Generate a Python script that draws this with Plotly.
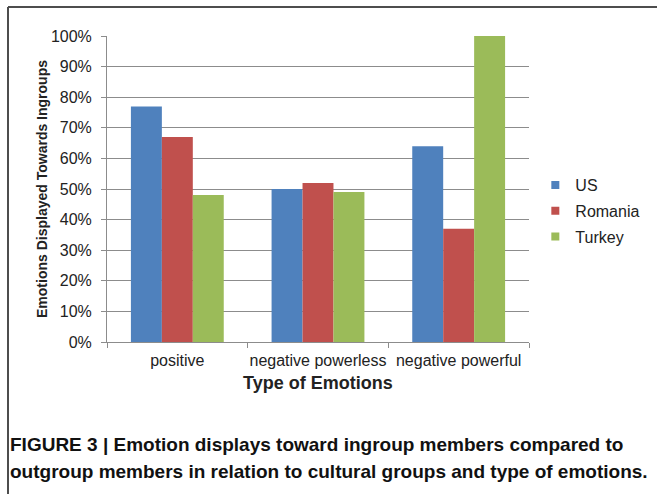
import plotly.graph_objects as go

categories = ['positive', 'negative powerless', 'negative powerful']
us = [0.77, 0.50, 0.64]
romania = [0.67, 0.52, 0.37]
turkey = [0.48, 0.49, 1.00]

series = [('US', us, '#4F81BD'), ('Romania', romania, '#C0504D'), ('Turkey', turkey, '#9BBB59')]

W, H = 657, 494
L, R, T, B = 107, 529, 36, 342

fig = go.Figure()
for name, vals, color in series:
    fig.add_trace(go.Bar(x=categories, y=vals, name=name, marker_color=color,
                         marker_line_width=0, showlegend=False))
    # small square legend entries
    fig.add_trace(go.Scatter(x=[None], y=[None], mode='markers', name=name, legendgroup=name,
                             marker=dict(symbol='square', size=8, color=color)))

grid = '#8c8c8c'
fig.update_layout(
    width=W, height=H,
    margin=dict(l=L, r=W - R, t=T, b=H - B, pad=0, autoexpand=False),
    paper_bgcolor='white', plot_bgcolor='white',
    bargap=0.34, bargroupgap=0,
    font=dict(family='Liberation Sans, Arial, sans-serif', color='#222', size=16),
    legend=dict(x=1.015, y=0.428, xanchor='left', yanchor='middle',
                font=dict(size=16), itemwidth=30, tracegroupgap=2,
                bgcolor='rgba(0,0,0,0)'),
    showlegend=True,
)
fig.update_xaxes(showgrid=False, showline=True, linecolor=grid, linewidth=1,
                 ticks='outside', tickson='boundaries', ticklen=5, tickcolor=grid,
                 tickfont=dict(size=16), tickangle=0, ticklabelstandoff=4, automargin=False)
fig.update_yaxes(range=[0, 1], dtick=0.1, tickformat='.0%', showgrid=True,
                 gridcolor=grid, gridwidth=1, showline=True, linecolor=grid,
                 ticks='outside', ticklen=5, tickcolor=grid, zeroline=False,
                 tickfont=dict(size=16), ticklabelstandoff=6, automargin=False)

def px_x(p):
    return (p - L) / (R - L)

def px_y(p):
    return (B - p) / (B - T)

# axis titles
fig.add_annotation(text='<b>Type of Emotions</b>', x=0.5, y=px_y(383), xref='paper', yref='paper',
                   showarrow=False, font=dict(size=18), xanchor='center', yanchor='middle')
fig.add_annotation(text='<b>Emotions Displayed Towards Ingroups</b>', x=px_x(42), y=0.5,
                   xref='paper', yref='paper', textangle=-90, showarrow=False,
                   font=dict(size=14), xanchor='center', yanchor='middle')

# caption, two lines
caption = ['<b>FIGURE 3 | Emotion displays toward ingroup members compared to</b>',
           '<b>outgroup members in relation to cultural groups and type of emotions.</b>']
for line, ypx in zip(caption, [444, 471]):
    fig.add_annotation(text=line, x=px_x(8), y=px_y(ypx), xref='paper', yref='paper',
                       showarrow=False, align='left', xanchor='left', yanchor='middle',
                       font=dict(size=19, family='Liberation Sans, Arial', color='#111'))

# outer frame (top and left edges)
frame = '#4d4d4d'
fig.add_shape(type='line', xref='paper', yref='paper', x0=px_x(8), x1=px_x(660),
              y0=px_y(7), y1=px_y(7), line=dict(color=frame, width=2))
fig.add_shape(type='line', xref='paper', yref='paper', x0=px_x(8), x1=px_x(8),
              y0=px_y(7), y1=px_y(500), line=dict(color=frame, width=2))

fig.write_html('out.html', config={'displayModeBar': False},
               post_script="document.body.style.margin='0';")
